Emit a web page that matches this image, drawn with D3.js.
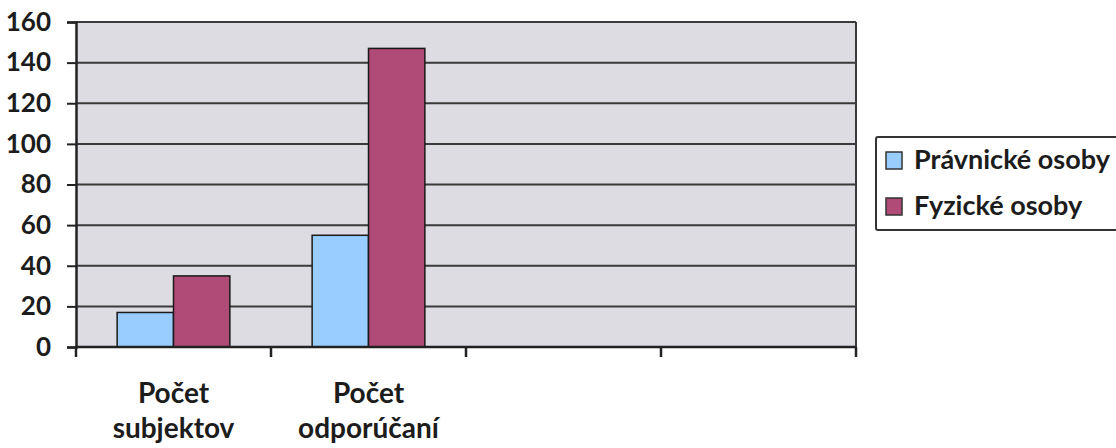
<!DOCTYPE html>
<html><head><meta charset="utf-8">
<script src="https://cdn.jsdelivr.net/npm/d3@7"></script>
<style>body{margin:0;background:#fff;} svg{display:block;}</style>
</head><body>
<script>
const categories = [["Počet","subjektov"],["Počet","odporúčaní"],["",""],["",""]];
const seriesNames = ["Právnické osoby","Fyzické osoby"];
const pravnicke = [17, 55, null, null];
const fyzicke = [35, 147, null, null];
const yTicks = [0,20,40,60,80,100,120,140,160];
const colors = ["#99ccff","#b04a76"];

const W=1116,H=448;
const svg=d3.select("body").append("svg").attr("width",W).attr("height",H);
const font="Lato, 'Open Sans', sans-serif";
const ink="#1c1c1c";
const L=76,R=856,T=22,B=347;
const x=d3.scaleBand().domain(d3.range(categories.length)).range([L,R]);
const y=d3.scaleLinear().domain([0,160]).range([B,T]);
const xs=d3.scaleBand().domain([0,1]).range([0,x.bandwidth()]).paddingInner(0).paddingOuter(0.73);

svg.append("rect").attr("x",L).attr("y",T).attr("width",R-L).attr("height",B-T).attr("fill","#dcdce2");
svg.append("g").selectAll("line").data(yTicks.slice(1)).join("line")
 .attr("x1",L).attr("x2",R).attr("y1",d=>y(d)).attr("y2",d=>y(d))
 .attr("stroke","#3a3a3a").attr("stroke-width",2);
svg.append("line").attr("x1",R).attr("x2",R).attr("y1",T).attr("y2",B).attr("stroke","#3a3a3a").attr("stroke-width",2);

const series=[pravnicke,fyzicke];
series.forEach((vals,si)=>{
  svg.append("g").selectAll("rect").data(vals.map((v,i)=>({v,i})).filter(d=>d.v!=null)).join("rect")
   .attr("x",d=>x(d.i)+xs(si)).attr("width",xs.bandwidth())
   .attr("y",d=>y(d.v)).attr("height",d=>y(0)-y(d.v))
   .attr("fill",colors[si]).attr("stroke","#1a1a1a").attr("stroke-width",1.5);
});

const ya=svg.append("g").attr("transform",`translate(${L},0)`)
 .call(d3.axisLeft(y).tickValues(yTicks).tickSize(9).tickPadding(16));
ya.select(".domain").attr("stroke","#222").attr("stroke-width",2.5);
ya.selectAll(".tick line").attr("stroke","#222").attr("stroke-width",2);
ya.selectAll("text").attr("font-family",font).attr("font-weight","bold").attr("font-size",26).attr("fill",ink);

svg.append("line").attr("x1",L).attr("x2",R).attr("y1",B).attr("y2",B).attr("stroke","#222").attr("stroke-width",2.5);
const xt=d3.range(categories.length+1).map(i=>L+i*x.step());
svg.append("g").selectAll("line").data(xt).join("line")
 .attr("x1",d=>d).attr("x2",d=>d).attr("y1",B).attr("y2",B+10).attr("stroke","#222").attr("stroke-width",2.5);
const xl=svg.append("g");
categories.forEach((c,i)=>{
  c.forEach((s,j)=>{
    xl.append("text").attr("x",x(i)+x.bandwidth()/2).attr("y",403+j*35)
     .attr("text-anchor","middle").attr("font-family",font).attr("font-weight","bold")
     .attr("font-size",28).attr("fill",ink).text(s);
  });
});

const lg=svg.append("g");
lg.append("rect").attr("x",876).attr("y",137).attr("width",260).attr("height",93)
 .attr("fill","#fff").attr("stroke","#333").attr("stroke-width",2).attr("rx",2);
seriesNames.forEach((n,i)=>{
  const yy=169+i*46;
  lg.append("rect").attr("x",886).attr("y",yy-17).attr("width",16).attr("height",17)
   .attr("fill",colors[i]).attr("stroke","#333").attr("stroke-width",1.5);
  lg.append("text").attr("x",914).attr("y",yy).attr("font-family",font).attr("font-weight","bold")
   .attr("font-size",27).attr("fill",ink).text(n);
});
</script>
</body></html>
